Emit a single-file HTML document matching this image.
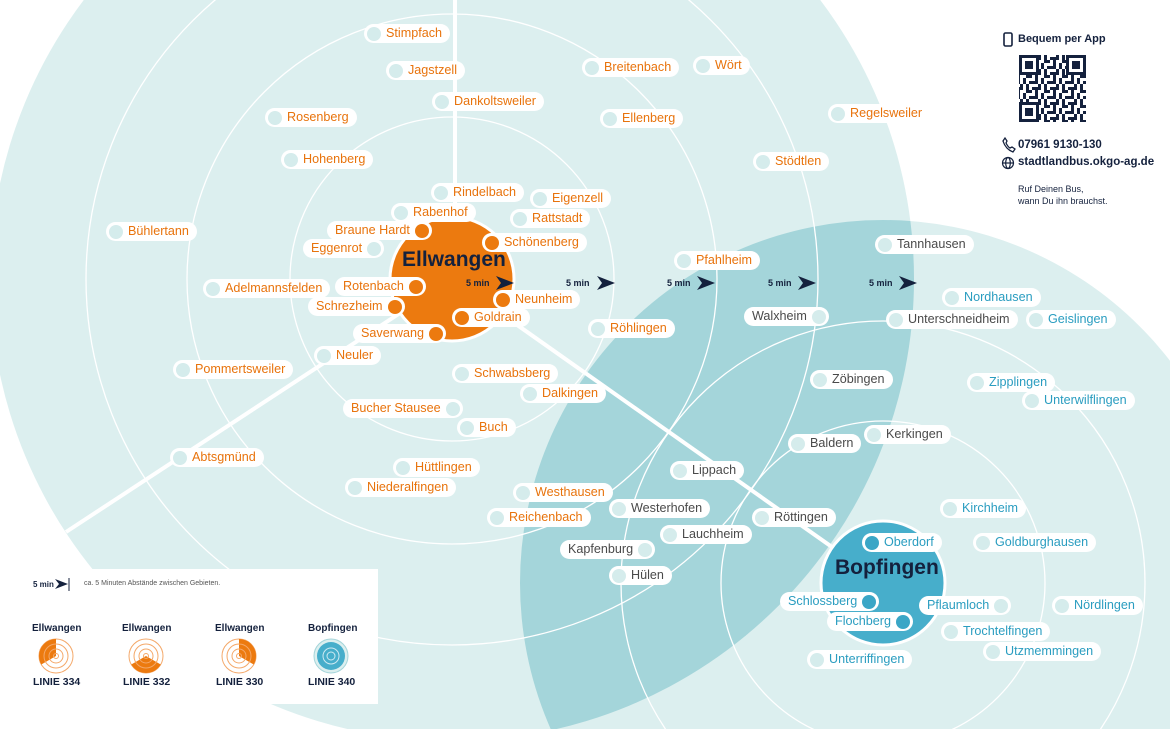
<!DOCTYPE html>
<html style="overflow:hidden"><head><meta charset="utf-8"><style>
html,body{margin:0;width:1170px;height:729px;overflow:hidden}
body{position:relative;background:#fff;font-family:"Liberation Sans",sans-serif}
.p{position:absolute;height:19px;line-height:19px;background:#fff;border-radius:10px;font-size:12.6px;white-space:nowrap}
.L{padding:0 8px 0 22px}.L i{left:3px}
.R{padding:0 22px 0 8px}.R i{right:3px}
.p i{position:absolute;top:2.5px;width:14px;height:14px;border-radius:50%}
i.l{background:#d5ecec}i.O{background:#ec7a0f}i.T{background:#3aa6c6}
.o{color:#e8730c}.g{color:#4a4a4a}.t{color:#2a9dc0}
.a{position:absolute;font-size:9px;font-weight:bold;color:#14213d}
.n{position:absolute;color:#14213d;font-weight:bold}
</style></head><body>
<svg width="1170" height="729" style="position:absolute;left:0;top:0">
<defs><clipPath id="ce"><circle cx="452" cy="279" r="462"/></clipPath>
<pattern id="qr" width="18" height="15" patternUnits="userSpaceOnUse"><rect width="18" height="15" fill="#fff"/><rect x="0" y="0" width="6" height="3" fill="#14213d"/><rect x="9" y="0" width="3" height="6" fill="#14213d"/><rect x="3" y="6" width="9" height="3" fill="#14213d"/><rect x="15" y="3" width="3" height="6" fill="#14213d"/><rect x="0" y="9" width="3" height="6" fill="#14213d"/><rect x="6" y="12" width="9" height="3" fill="#14213d"/><rect x="12" y="9" width="3" height="3" fill="#14213d"/></pattern></defs>
<circle cx="452" cy="279" r="462" fill="#dcefef"/>
<circle cx="883" cy="583" r="363" fill="#dcefef"/>
<circle cx="883" cy="583" r="363" fill="#a4d5da" clip-path="url(#ce)"/>
<g fill="none" stroke="#fff" stroke-width="1.3">
<circle cx="452" cy="279" r="162"/><circle cx="452" cy="279" r="265"/><circle cx="452" cy="279" r="366"/>
<circle cx="883" cy="583" r="162"/><circle cx="883" cy="583" r="262"/>
</g>
<g stroke="#fff" stroke-width="4"><line x1="455" y1="0" x2="455" y2="279"/><line x1="452" y1="279" x2="66" y2="532"/><line x1="452" y1="279" x2="883" y2="583"/></g>
<circle cx="452" cy="279" r="62" fill="#ec7a0f" stroke="#fff" stroke-width="3"/>
<circle cx="883" cy="583" r="62" fill="#47aecb" stroke="#fff" stroke-width="3"/>
<g fill="#14213d">
<path d="M496 276l18 7-18 7 5-7z"/><path d="M597 276l18 7-18 7 5-7z"/><path d="M697 276l18 7-18 7 5-7z"/><path d="M798 276l18 7-18 7 5-7z"/><path d="M899 276l18 7-18 7 5-7z"/>
</g>
<rect x="0" y="569" width="378" height="135" fill="#fff"/>
<path d="M55 579l13 5-13 5 4-5z" fill="#14213d"/><line x1="69" y1="578" x2="69" y2="591" stroke="#14213d"/>
<g stroke="#f4a869" fill="none">
<circle cx="56" cy="656" r="17" fill="#fff"/><circle cx="146" cy="656" r="17" fill="#fff"/><circle cx="239" cy="656" r="17" fill="#fff"/>
</g>
<path d="M56 656L56 639A17 17 0 0 0 41.3 664.5Z" fill="#ec7a0f"/>
<path d="M146 656L160.7 664.5A17 17 0 0 1 131.3 664.5Z" fill="#ec7a0f"/>
<path d="M239 656L239 639A17 17 0 0 1 253.7 664.5Z" fill="#ec7a0f"/>
<g stroke="#f4a869" fill="none" stroke-width="1">
<circle cx="56" cy="656" r="12"/><circle cx="56" cy="656" r="7"/><circle cx="56" cy="656" r="2.5"/>
<circle cx="146" cy="656" r="12"/><circle cx="146" cy="656" r="7"/><circle cx="146" cy="656" r="2.5"/>
<circle cx="239" cy="656" r="12"/><circle cx="239" cy="656" r="7"/><circle cx="239" cy="656" r="2.5"/>
</g>
<circle cx="331" cy="656" r="17" fill="#dcefef" stroke="#a4d5da"/>
<circle cx="331" cy="656" r="14" fill="#47aecb"/>
<circle cx="331" cy="656" r="8" fill="none" stroke="#cfeaf2"/><circle cx="331" cy="656" r="4" fill="none" stroke="#cfeaf2"/>
<rect x="1019" y="55" width="67" height="67" fill="url(#qr)"/>
<g fill="#fff" stroke="#14213d" stroke-width="3">
<rect x="1020.5" y="56.5" width="17" height="17"/><rect x="1067.5" y="56.5" width="17" height="17"/><rect x="1020.5" y="103.5" width="17" height="17"/></g>
<g fill="#14213d"><rect x="1025" y="61" width="8" height="8"/><rect x="1072" y="61" width="8" height="8"/><rect x="1025" y="108" width="8" height="8"/></g>
<rect x="1004" y="33" width="8" height="13" rx="1.5" fill="none" stroke="#14213d" stroke-width="1.6"/>
<path d="M1003 141c2 6 5 9 10 11l2-3-3-2-2 1c-2-1-3-3-4-5l1-2-2-3z" fill="none" stroke="#14213d" stroke-width="1.3"/>
<g fill="none" stroke="#14213d" stroke-width="1.2"><circle cx="1008" cy="163" r="5.5"/><ellipse cx="1008" cy="163" rx="2.3" ry="5.5"/><line x1="1002.5" y1="163" x2="1013.5" y2="163"/></g>
</svg>
<div class="n" style="left:402px;top:248px;font-size:21px">Ellwangen</div>
<div class="n" style="left:835px;top:556px;font-size:21px">Bopfingen</div>
<div class="a" style="left:466px;top:278px">5 min</div><div class="a" style="left:566px;top:278px">5 min</div><div class="a" style="left:667px;top:278px">5 min</div><div class="a" style="left:768px;top:278px">5 min</div><div class="a" style="left:869px;top:278px">5 min</div>
<div class="a" style="left:33px;top:580px;font-size:8px">5 min</div>
<div style="position:absolute;left:84px;top:580px;font-size:7px;color:#555">ca. 5 Minuten Abstände zwischen Gebieten.</div>
<div class="n" style="left:32px;top:623px;font-size:10px">Ellwangen</div><div class="n" style="left:122px;top:623px;font-size:10px">Ellwangen</div><div class="n" style="left:215px;top:623px;font-size:10px">Ellwangen</div><div class="n" style="left:308px;top:623px;font-size:10px">Bopfingen</div>
<div class="n" style="left:33px;top:676px;font-size:10.5px">LINIE 334</div><div class="n" style="left:123px;top:676px;font-size:10.5px">LINIE 332</div><div class="n" style="left:216px;top:676px;font-size:10.5px">LINIE 330</div><div class="n" style="left:308px;top:676px;font-size:10.5px">LINIE 340</div>
<div class="n" style="left:1018px;top:33px;font-size:11px">Bequem per App</div>
<div class="n" style="left:1018px;top:139px;font-size:11.5px">07961 9130-130</div>
<div class="n" style="left:1018px;top:156px;font-size:11.5px">stadtlandbus.okgo-ag.de</div>
<div style="position:absolute;left:1018px;top:183px;font-size:9px;line-height:12px;color:#14213d">Ruf Deinen Bus,<br>wann Du ihn brauchst.</div>

<div class="p L o" style="left:364px;top:24px">Stimpfach<i class="l"></i></div>
<div class="p L o" style="left:386px;top:61px">Jagstzell<i class="l"></i></div>
<div class="p L o" style="left:432px;top:92px">Dankoltsweiler<i class="l"></i></div>
<div class="p L o" style="left:582px;top:58px">Breitenbach<i class="l"></i></div>
<div class="p L o" style="left:693px;top:56px">Wört<i class="l"></i></div>
<div class="p L o" style="left:828px;top:104px">Regelsweiler<i class="l"></i></div>
<div class="p L o" style="left:265px;top:108px">Rosenberg<i class="l"></i></div>
<div class="p L o" style="left:600px;top:109px">Ellenberg<i class="l"></i></div>
<div class="p L o" style="left:281px;top:150px">Hohenberg<i class="l"></i></div>
<div class="p L o" style="left:753px;top:152px">Stödtlen<i class="l"></i></div>
<div class="p L o" style="left:431px;top:183px">Rindelbach<i class="l"></i></div>
<div class="p L o" style="left:530px;top:189px">Eigenzell<i class="l"></i></div>
<div class="p L o" style="left:391px;top:203px">Rabenhof<i class="l"></i></div>
<div class="p L o" style="left:510px;top:209px">Rattstadt<i class="l"></i></div>
<div class="p R o" style="left:327px;top:221px">Braune Hardt<i class="O"></i></div>
<div class="p L o" style="left:106px;top:222px">Bühlertann<i class="l"></i></div>
<div class="p L o" style="left:482px;top:233px">Schönenberg<i class="O"></i></div>
<div class="p L g" style="left:875px;top:235px">Tannhausen<i class="l"></i></div>
<div class="p R o" style="left:303px;top:239px">Eggenrot<i class="l"></i></div>
<div class="p L o" style="left:674px;top:251px">Pfahlheim<i class="l"></i></div>
<div class="p L o" style="left:203px;top:279px">Adelmannsfelden<i class="l"></i></div>
<div class="p R o" style="left:335px;top:277px">Rotenbach<i class="O"></i></div>
<div class="p L t" style="left:942px;top:288px">Nordhausen<i class="l"></i></div>
<div class="p L o" style="left:493px;top:290px">Neunheim<i class="O"></i></div>
<div class="p R o" style="left:308px;top:297px">Schrezheim<i class="O"></i></div>
<div class="p R g" style="left:744px;top:307px">Walxheim<i class="l"></i></div>
<div class="p L o" style="left:452px;top:308px">Goldrain<i class="O"></i></div>
<div class="p L g" style="left:886px;top:310px">Unterschneidheim<i class="l"></i></div>
<div class="p L t" style="left:1026px;top:310px">Geislingen<i class="l"></i></div>
<div class="p L o" style="left:588px;top:319px">Röhlingen<i class="l"></i></div>
<div class="p R o" style="left:353px;top:324px">Saverwang<i class="O"></i></div>
<div class="p L o" style="left:314px;top:346px">Neuler<i class="l"></i></div>
<div class="p L o" style="left:173px;top:360px">Pommertsweiler<i class="l"></i></div>
<div class="p L o" style="left:452px;top:364px">Schwabsberg<i class="l"></i></div>
<div class="p L g" style="left:810px;top:370px">Zöbingen<i class="l"></i></div>
<div class="p L t" style="left:967px;top:373px">Zipplingen<i class="l"></i></div>
<div class="p L o" style="left:520px;top:384px">Dalkingen<i class="l"></i></div>
<div class="p L t" style="left:1022px;top:391px">Unterwilflingen<i class="l"></i></div>
<div class="p R o" style="left:343px;top:399px">Bucher Stausee<i class="l"></i></div>
<div class="p L o" style="left:457px;top:418px">Buch<i class="l"></i></div>
<div class="p L g" style="left:864px;top:425px">Kerkingen<i class="l"></i></div>
<div class="p L g" style="left:788px;top:434px">Baldern<i class="l"></i></div>
<div class="p L o" style="left:170px;top:448px">Abtsgmünd<i class="l"></i></div>
<div class="p L o" style="left:393px;top:458px">Hüttlingen<i class="l"></i></div>
<div class="p L g" style="left:670px;top:461px">Lippach<i class="l"></i></div>
<div class="p L o" style="left:345px;top:478px">Niederalfingen<i class="l"></i></div>
<div class="p L o" style="left:513px;top:483px">Westhausen<i class="l"></i></div>
<div class="p L g" style="left:609px;top:499px">Westerhofen<i class="l"></i></div>
<div class="p L t" style="left:940px;top:499px">Kirchheim<i class="l"></i></div>
<div class="p L o" style="left:487px;top:508px">Reichenbach<i class="l"></i></div>
<div class="p L g" style="left:752px;top:508px">Röttingen<i class="l"></i></div>
<div class="p L g" style="left:660px;top:525px">Lauchheim<i class="l"></i></div>
<div class="p L t" style="left:862px;top:533px">Oberdorf<i class="T"></i></div>
<div class="p L t" style="left:973px;top:533px">Goldburghausen<i class="l"></i></div>
<div class="p R g" style="left:560px;top:540px">Kapfenburg<i class="l"></i></div>
<div class="p L g" style="left:609px;top:566px">Hülen<i class="l"></i></div>
<div class="p R t" style="left:780px;top:592px">Schlossberg<i class="T"></i></div>
<div class="p R t" style="left:919px;top:596px">Pflaumloch<i class="l"></i></div>
<div class="p L t" style="left:1052px;top:596px">Nördlingen<i class="l"></i></div>
<div class="p R t" style="left:827px;top:612px">Flochberg<i class="T"></i></div>
<div class="p L t" style="left:941px;top:622px">Trochtelfingen<i class="l"></i></div>
<div class="p L t" style="left:983px;top:642px">Utzmemmingen<i class="l"></i></div>
<div class="p L t" style="left:807px;top:650px">Unterriffingen<i class="l"></i></div>
</body></html>
